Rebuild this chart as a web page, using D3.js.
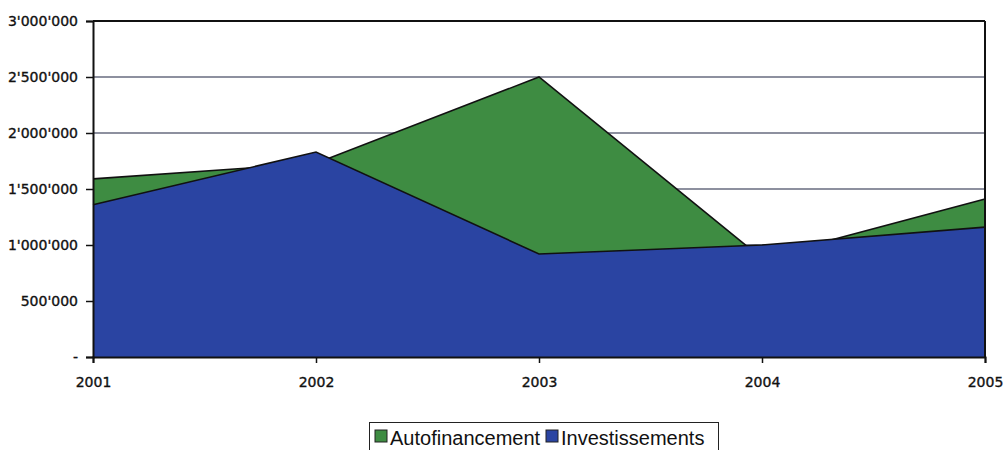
<!DOCTYPE html>
<html><head><meta charset="utf-8">
<script src="https://cdn.jsdelivr.net/npm/d3@7"></script>
<style>body{margin:0;background:#fff}svg{display:block}</style>
</head><body>
<svg id="c" width="1005" height="450"></svg>
<script>
const years = ["2001","2002","2003","2004","2005"];
const autofinancement = [1590000, 1730000, 2500000, 880000, 1410000];
const investissements = [1360000, 1830000, 920000, 1000000, 1160000];
const yTicks = [0, 500000, 1000000, 1500000, 2000000, 2500000, 3000000];
const yTickLabels = ["-", "500'000", "1'000'000", "1'500'000", "2'000'000", "2'500'000", "3'000'000"];
const seriesNames = ["Autofinancement", "Investissements"];
const colors = ["#3e8c42", "#2a44a2"];

const svg = d3.select("#c");
const m = {l:93, r:985, t:21, b:357};
const x = d3.scalePoint().domain(years).range([m.l, m.r]);
const y = d3.scaleLinear().domain([0, 3000000]).range([m.b, m.t]);

// gridlines
svg.append("g").selectAll("line").data(yTicks.filter(v=>v>0 && v<3000000)).join("line")
  .attr("x1", m.l).attr("x2", m.r).attr("y1", d=>y(d)).attr("y2", d=>y(d))
  .attr("stroke", "#1c2240").attr("stroke-width", 1.2);

const area = d3.area().x((d,i)=>x(years[i])).y0(y(0)).y1(d=>y(d));
const line = d3.line().x((d,i)=>x(years[i])).y(d=>y(d));
[autofinancement, investissements].forEach((s,k)=>{
  svg.append("path").datum(s).attr("d", area).attr("fill", colors[k]);
  svg.append("path").datum(s).attr("d", line).attr("fill","none").attr("stroke","#111").attr("stroke-width",1.6);
});

// frame
svg.append("line").attr("x1",m.l).attr("x2",m.r).attr("y1",m.t).attr("y2",m.t).attr("stroke","#111").attr("stroke-width",2);
svg.append("line").attr("x1",m.r).attr("x2",m.r).attr("y1",m.t).attr("y2",m.b).attr("stroke","#111").attr("stroke-width",2);

// axes
const yAxis = d3.axisLeft(y).tickValues(yTicks).tickFormat((d,i)=>yTickLabels[i]).tickSize(7).tickPadding(8);
const gy = svg.append("g").attr("transform",`translate(${m.l},0)`).call(yAxis);
const xAxis = d3.axisBottom(x).tickSize(6).tickPadding(14);
const gx = svg.append("g").attr("transform",`translate(0,${m.b})`).call(xAxis);
[gy,gx].forEach(g=>{
  g.select(".domain").attr("stroke","#111").attr("stroke-width",2);
  g.selectAll(".tick line").attr("stroke","#111").attr("stroke-width",1.5);
  g.selectAll("text").attr("fill","#111").attr("stroke","#111").attr("stroke-width",0.35)
    .style("font-family","'DejaVu Sans', Verdana, sans-serif").style("font-size","14px");
});

// legend
const lg = svg.append("g");
lg.append("rect").attr("x",369.5).attr("y",422.5).attr("width",349).attr("height",30).attr("fill","#fff").attr("stroke","#222");
const items = [{x:375, tx:390}, {x:546, tx:561}];
seriesNames.forEach((n,i)=>{
  lg.append("rect").attr("x",items[i].x).attr("y",430).attr("width",12).attr("height",12).attr("fill",colors[i]).attr("stroke","#222");
  lg.append("text").attr("x",items[i].tx).attr("y",445).text(n)
    .style("font-family","'Liberation Sans', Arial, sans-serif").style("font-size","20px").attr("fill","#111");
});
</script>
</body></html>
